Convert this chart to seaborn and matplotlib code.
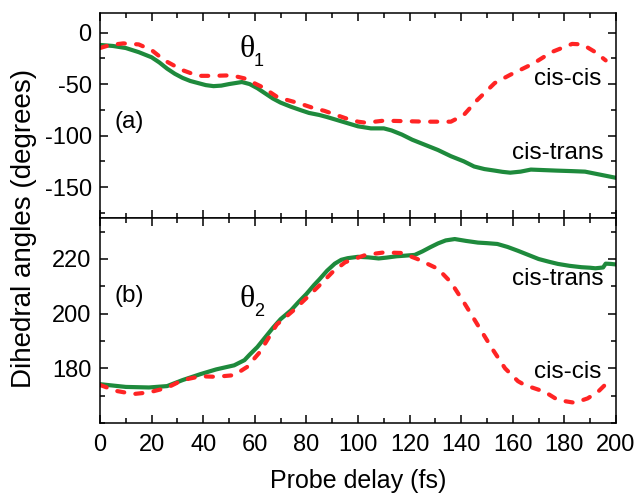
import matplotlib
matplotlib.use("Agg")
import matplotlib.pyplot as plt
import seaborn as sns
import numpy as np
from matplotlib.ticker import MultipleLocator

# ---------------- data ----------------
# Panel (a): theta_1
a_trans_t = [0, 5, 10, 15, 20, 23, 26, 29, 32, 35, 38, 41, 44, 47, 50, 55, 58, 61, 64, 67, 70, 74, 78, 81, 85, 88, 92,
             96, 100, 105, 110, 113, 117, 121, 126, 131, 136, 141, 145, 149, 153, 156, 159, 163, 167, 172, 177, 183, 188, 191, 194, 197, 200]
a_trans_v = [-12, -13, -15, -19, -24, -29, -35, -40, -44, -47, -49, -51, -52, -51.5, -50, -48, -50, -54, -59, -64, -68, -72, -75.5, -78, -80, -82, -85,
             -88, -91, -93, -93, -95, -99, -104, -109, -114, -120, -125, -130, -132.5, -134, -135.2, -136, -135, -133, -133.5, -134, -134.5, -135, -136.5, -138, -139.5, -141]

a_cis_t = [0, 4, 9, 15, 20, 25, 32, 38, 44, 51, 56, 63, 69, 77, 83, 87, 95, 100, 103,
           110, 118, 127, 136, 141, 146, 153, 159, 168, 175, 183, 187, 192, 196]
a_cis_v = [-15, -12, -10.5, -11.5, -17, -27, -36.5, -42, -42, -41.5, -44.5, -53, -63, -68.5, -73.5, -76, -83, -86.5, -87.5,
           -85.5, -86, -86.5, -86.5, -80, -66, -49, -41, -30, -19, -11, -11.5, -19, -27]

# Panel (b): theta_2
b_trans_t = [0, 10, 19, 26, 32, 39, 45, 52, 56, 58, 61, 64, 67, 70, 74, 77, 80, 83, 85, 88, 91, 93.5, 96, 100, 104, 108, 111, 115, 118, 122,
             125, 128, 131, 134, 137.5, 142, 146.5, 150, 154, 158, 162, 166, 170, 174, 177.5, 182, 186.6, 190, 192, 195, 196, 198, 200]
b_trans_v = [174.2, 173.2, 173, 173.5, 175.7, 177.9, 179.6, 181.1, 183, 185, 187.8, 191.3, 194.8, 198, 201.2, 204.3, 207.2, 210.5, 212.5, 215.7, 218.3, 219.7, 220.3, 220.8, 220.6, 220.2, 220.5, 221, 221.2, 221.5,
             222.8, 224.3, 225.7, 226.8, 227.3, 226.6, 226, 225.8, 225.5, 224.4, 223, 221.5, 220, 219, 218.2, 217.5, 217, 216.8, 216.6, 216.9, 218.3, 218.2, 218]

b_cis_t = [0, 6.5, 13, 19, 26, 32, 39, 45, 52, 57, 62, 68.5, 75, 81, 85, 90, 95, 103, 110, 117,
           123, 131, 136, 141, 146.5, 152, 157, 162, 164.6, 172.4, 177.5, 184, 189, 193, 197]
b_cis_v = [173.9, 171.7, 170.6, 171.2, 172.9, 175.7, 177.1, 176.9, 177.5, 180.5, 186, 196, 201.2, 206.6, 210.3, 215.1, 218.8, 221.5, 222.4, 222.2,
           220, 216.4, 211.5, 204.2, 195.7, 187.2, 180, 175.3, 173.9, 171.4, 168.4, 167.4, 169, 171.4, 175.1]

a_yticks = [0, -50, -100, -150]
b_yticks = [180, 200, 220]
x_ticks = [0, 20, 40, 60, 80, 100, 120, 140, 160, 180, 200]

GREEN = "#1e8a3c"
RED = "#ff2424"

# ---------------- style ----------------
sns.set_style("ticks")
plt.rcParams["font.family"] = ["Liberation Sans", "DejaVu Sans"]
plt.rcParams["axes.unicode_minus"] = False
plt.rcParams["axes.linewidth"] = 1.1
plt.rcParams["axes.edgecolor"] = "black"
plt.rcParams["text.color"] = "black"
plt.rcParams["xtick.color"] = "black"
plt.rcParams["ytick.color"] = "black"
plt.rcParams["xtick.labelcolor"] = "black"
plt.rcParams["ytick.labelcolor"] = "black"

fig = plt.figure(figsize=(6.38, 4.96), dpi=100)
axL = 100 / 638
axW = (616 - 100) / 638
axH = 205 / 496
ax1 = fig.add_axes([axL, 1 - 218 / 496, axW, axH])
ax2 = fig.add_axes([axL, 1 - 423 / 496, axW, axH])


def draw(ax, t, v, color, dashed):
    sns.lineplot(x=t, y=v, ax=ax, color=color, linewidth=3.0, estimator=None, sort=False)
    ln = ax.get_lines()[-1]
    ln.set_solid_capstyle("round")
    ln.set_solid_joinstyle("round")
    if dashed:
        ln.set_linestyle((0, (1.7, 2.7)))
        ln.set_dash_capstyle("round")


draw(ax1, a_trans_t, a_trans_v, GREEN, False)
draw(ax1, a_cis_t, a_cis_v, RED, True)
draw(ax2, b_trans_t, b_trans_v, GREEN, False)
draw(ax2, b_cis_t, b_cis_v, RED, True)

ax1.set_ylim(-180, 19)
ax2.set_ylim(160, 235)
for ax in (ax1, ax2):
    ax.set_xlim(0, 200)
    ax.set_xticks(x_ticks)
    ax.xaxis.set_minor_locator(MultipleLocator(10))
    ax.tick_params(which="both", direction="in", top=True, right=True, width=1.1, color="black")
    ax.tick_params(which="major", length=6, labelsize=17, pad=6)
    ax.tick_params(which="minor", length=3.3)
    ax.set_xlabel("")
    ax.set_ylabel("")
    for s in ax.spines.values():
        s.set_visible(True)
        s.set_linewidth(1.1)
        s.set_color("black")

ax1.set_yticks(a_yticks)
ax1.yaxis.set_minor_locator(MultipleLocator(25))
ax1.tick_params(axis="x", labelbottom=False)
ax2.set_yticks(b_yticks)
ax2.yaxis.set_minor_locator(MultipleLocator(10))
ax2.tick_params(axis="x", pad=8)

# ---------------- texts ----------------
ax1.text(5.8, -87, "(a)", fontsize=17.5, va="center", ha="left")
ax2.text(5.8, 206.3, "(b)", fontsize=17.5, va="center", ha="left")

ax1.text(57, -16, "θ", fontsize=23, family=["Liberation Serif", "DejaVu Serif"], ha="center", va="center")
ax1.text(61.6, -28, "1", fontsize=13, ha="center", va="center")
ax2.text(57, 205.1, "θ", fontsize=23, family=["Liberation Serif", "DejaVu Serif"], ha="center", va="center")
ax2.text(61.6, 200.7, "2", fontsize=13, ha="center", va="center")

ax1.text(194.2, -45.5, "cis-cis", fontsize=17.5, ha="right", va="center")
ax1.text(195.3, -117, "cis-trans", fontsize=17.5, ha="right", va="center")
ax2.text(195.3, 212.5, "cis-trans", fontsize=17.5, ha="right", va="center")
ax2.text(194.2, 178.8, "cis-cis", fontsize=17.5, ha="right", va="center")

fig.text(358 / 638, 1 - 481 / 496, "Probe delay (fs)", fontsize=18, ha="center", va="center")
fig.text(24 / 638, 1 - 228 / 496, "Dihedral angles (degrees)", fontsize=20,
         rotation=90, ha="center", va="center")

fig.savefig("out.png", dpi=100)
